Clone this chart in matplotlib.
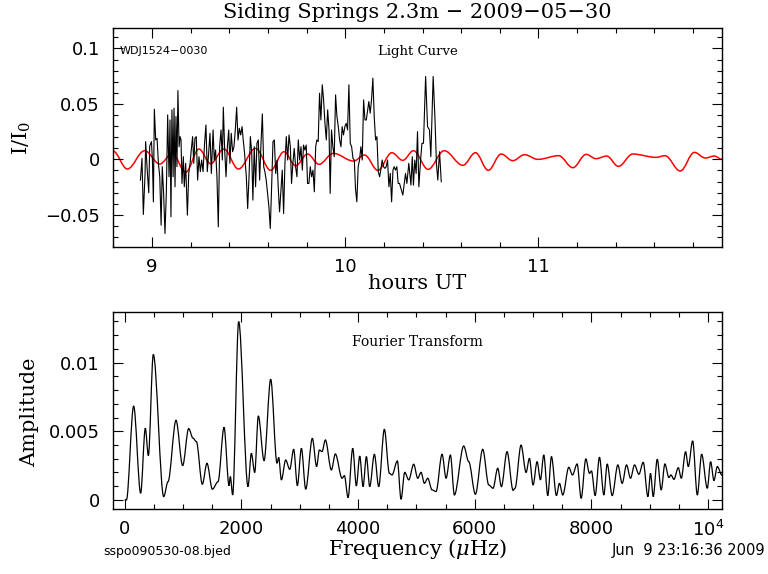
import numpy as np
import matplotlib
matplotlib.use("Agg")
import matplotlib.pyplot as plt
from matplotlib.path import Path
from matplotlib.patches import PathPatch
from matplotlib.ticker import MultipleLocator, FuncFormatter

plt.rcParams['mathtext.fontset'] = 'dejavuserif'

# ---------------- data ----------------
title = "Siding Springs 2.3m \u2212 2009\u221205\u221230"
star_name = "WDJ1524\u22120030"
file_name = "sspo090530-08.bjed"
stamp = "Jun  9 23:16:36 2009"

lc_hours = [8.940, 8.948, 8.955, 8.964, 8.967, 8.974, 8.983, 8.988, 8.997, 9.002,
            9.007, 9.012, 9.019, 9.026, 9.033, 9.040, 9.047, 9.053, 9.060, 9.067,
            9.074, 9.081, 9.088, 9.093, 9.098, 9.103, 9.109, 9.114, 9.119, 9.124,
            9.129, 9.134, 9.140, 9.145, 9.150, 9.155, 9.162, 9.167, 9.174, 9.183,
            9.190, 9.197, 9.203, 9.210, 9.216, 9.222, 9.229, 9.236, 9.243, 9.250,
            9.257, 9.264, 9.272, 9.279, 9.286, 9.293, 9.300, 9.307, 9.316, 9.322,
            9.329, 9.336, 9.343, 9.350, 9.357, 9.364, 9.369, 9.376, 9.383, 9.390,
            9.397, 9.403, 9.410, 9.417, 9.424, 9.431, 9.438, 9.445, 9.452, 9.459,
            9.466, 9.472, 9.479, 9.488, 9.495, 9.502, 9.509, 9.516, 9.522, 9.529,
            9.536, 9.543, 9.550, 9.557, 9.564, 9.571, 9.578, 9.584, 9.591, 9.598,
            9.605, 9.612, 9.619, 9.626, 9.633, 9.640, 9.647, 9.653, 9.660, 9.667,
            9.674, 9.681, 9.688, 9.695, 9.702, 9.709, 9.716, 9.722, 9.729, 9.736,
            9.743, 9.750, 9.757, 9.764, 9.771, 9.778, 9.784, 9.791, 9.798, 9.805,
            9.812, 9.819, 9.826, 9.833, 9.840, 9.847, 9.853, 9.860, 9.867, 9.874,
            9.881, 9.888, 9.895, 9.902, 9.909, 9.916, 9.922, 9.929, 9.936, 9.943,
            9.950, 9.957, 9.964, 9.971, 9.978, 9.984, 9.991, 9.998, 10.005, 10.012,
            10.019, 10.026, 10.033, 10.040, 10.047, 10.053, 10.060, 10.067, 10.074, 10.081,
            10.088, 10.095, 10.102, 10.109, 10.116, 10.122, 10.129, 10.136, 10.143, 10.150,
            10.157, 10.164, 10.171, 10.178, 10.184, 10.191, 10.198, 10.205, 10.212, 10.219,
            10.226, 10.233, 10.240, 10.247, 10.253, 10.260, 10.267, 10.274, 10.281, 10.298,
            10.312, 10.319, 10.329, 10.340, 10.347, 10.353, 10.360, 10.367, 10.374, 10.381,
            10.390, 10.397, 10.405, 10.416, 10.426, 10.436, 10.443, 10.450, 10.455, 10.464,
            10.472, 10.479, 10.488, 10.497]

lc_flux = [-0.0187, 0.0009, -0.0497, -0.0127, 0.0160, -0.0066, -0.0301, 0.0120, 0.0160, -0.0006,
           -0.0383, 0.0452, 0.0175, 0.0190, -0.0036, -0.0157, -0.0593, -0.0066, -0.0307, -0.0669,
           -0.0307, 0.0401, -0.0157, 0.0355, -0.0518, 0.0446, -0.0157, 0.0461, -0.0247, 0.0386,
           -0.0066, 0.0620, 0.0114, 0.0205, 0.0175, -0.0217, 0.0024, -0.0247, -0.0036, -0.0503,
           -0.0127, -0.0036, 0.0084, 0.0205, -0.0036, 0.0190, 0.0205, -0.0187, 0.0024, -0.0111,
           -0.0006, -0.0111, 0.0145, 0.0310, -0.0111, 0.0054, 0.0235, -0.0127, 0.0265, -0.0006,
           0.0084, -0.0157, -0.0608, 0.0114, 0.0265, -0.0006, 0.0470, 0.0084, -0.0157, 0.0114,
           0.0265, -0.0036, 0.0235, 0.0069, 0.0114, 0.0265, 0.0470, 0.0175, 0.0280, 0.0220,
           0.0295, 0.0175, 0.0054, -0.0157, -0.0443, -0.0157, 0.0205, 0.0054, -0.0367, 0.0114,
           -0.0247, 0.0145, 0.0175, -0.0187, 0.0145, 0.0410, -0.0066, -0.0111, -0.0187, -0.0307,
           -0.0428, -0.0623, -0.0247, 0.0160, 0.0175, -0.0127, -0.0006, -0.0247, -0.0473, -0.0277,
           -0.0097, -0.0488, -0.0036, 0.0205, -0.0006, 0.0220, 0.0114, -0.0217, -0.0036, 0.0099,
           -0.0066, -0.0157, 0.0175, -0.0006, 0.0114, -0.0097, 0.0129, 0.0084, 0.0129, -0.0217,
           -0.0217, -0.0066, -0.0157, -0.0097, -0.0292, 0.0114, 0.0175, 0.0160, 0.0596, 0.0355,
           0.0672, 0.0536, 0.0325, 0.0175, 0.0446, 0.0265, -0.0307, 0.0265, 0.0114, 0.0024,
           0.0581, 0.0386, 0.0295, 0.0175, 0.0114, 0.0295, 0.0220, 0.0295, 0.0325, 0.0265,
           0.0672, 0.0145, 0.0114, 0.0009, -0.0006, -0.0262, -0.0383, -0.0066, -0.0006, 0.0114,
           -0.0006, 0.0536, 0.0355, 0.0355, 0.0446, 0.0521, 0.0416, 0.0536, 0.0732, 0.0386,
           0.0175, 0.0205, -0.0111, -0.0157, -0.0097, -0.0006, -0.0066, -0.0081, -0.0066, -0.0006,
           -0.0247, -0.0127, -0.0383, -0.0097, -0.0066, -0.0097, -0.0066, -0.0217, -0.0217, -0.0322,
           -0.0127, -0.0217, -0.0036, -0.0232, 0.0024, -0.0232, -0.0006, -0.0127, 0.0250, -0.0247,
           -0.0006, 0.0145, 0.0145, 0.0747, 0.0295, 0.0265, 0.0024, 0.0446, 0.0747, 0.0386,
           -0.0036, -0.0187, 0.0069, -0.0202]

# model curve: turning points (hours, I/I0)
model_hours = [8.798, 8.872, 8.962, 9.040, 9.105, 9.174, 9.243, 9.303, 9.372, 9.447,
               9.536, 9.614, 9.683, 9.743, 9.805, 9.864, 9.938, 10.043, 10.100, 10.169,
               10.241, 10.298, 10.353, 10.429, 10.512, 10.609, 10.674, 10.740, 10.807, 10.867,
               10.928, 10.997, 11.105, 11.178, 11.247, 11.298, 11.353, 11.414, 11.488, 11.609,
               11.655, 11.734, 11.807, 11.864, 11.910, 11.950]
model_flux = [0.0075, -0.0087, 0.0078, -0.0042, 0.0054, -0.0117, 0.0093, -0.0039, 0.0093, -0.0087,
              0.0099, -0.0099, 0.0069, -0.0057, 0.0048, -0.0045, 0.0054, -0.0015, 0.0039, -0.0099,
              0.0060, -0.0009, 0.0078, -0.0090, 0.0078, -0.0054, 0.0060, -0.0099, 0.0048, -0.0012,
              0.0042, 0.0000, 0.0033, -0.0075, 0.0045, 0.0006, 0.0030, -0.0063, 0.0048, 0.0018,
              0.0033, -0.0105, 0.0063, 0.0012, 0.0030, 0.0000]

# Fourier transform: turning points (frequency in microHz, amplitude)
ft_freq = [0, 30, 154, 274, 354, 406, 491, 669, 743, 880,
           994, 1097, 1171, 1229, 1331, 1411, 1503, 1600, 1703, 1789,
           1811, 1851, 1954, 2114, 2171, 2229, 2291, 2389, 2503, 2611,
           2640, 2686, 2760, 2829, 2897, 2960, 3029, 3103, 3217, 3290,
           3337, 3383, 3440, 3543, 3611, 3726, 3766, 3829, 3909, 3971,
           4029, 4086, 4143, 4200, 4280, 4354, 4451, 4537, 4583, 4674,
           4737, 4800, 4869, 4954, 5023, 5080, 5137, 5194, 5269, 5337,
           5440, 5509, 5583, 5651, 5811, 5897, 6011, 6137, 6240, 6314,
           6394, 6457, 6554, 6657, 6690, 6794, 6880, 6937, 7000, 7069,
           7126, 7183, 7252, 7315, 7400, 7452, 7509, 7612, 7675, 7755,
           7824, 7904, 7967, 8001, 8064, 8138, 8213, 8270, 8356, 8453,
           8527, 8602, 8670, 8739, 8813, 8888, 8968, 9013, 9059, 9128,
           9196, 9259, 9328, 9363, 9414, 9489, 9540, 9614, 9660, 9735,
           9815, 9889, 9986, 10043, 10100, 10158, 10238]
ft_amp = [0.0, 0.0, 0.00684, 0.00049, 0.00522, 0.00323, 0.01060, 0.00024, 0.00133, 0.00580,
          0.00250, 0.00520, 0.00450, 0.00425, 0.00114, 0.00267, 0.00078, 0.00133, 0.00529, 0.00104,
          0.00170, 0.00036, 0.01299, 0.00097, 0.00340, 0.00200, 0.00612, 0.00286, 0.00879, 0.00267,
          0.00310, 0.00146, 0.00291, 0.00223, 0.00369, 0.00104, 0.00376, 0.00078, 0.00449, 0.00243,
          0.00364, 0.00352, 0.00437, 0.00218, 0.00335, 0.00158, 0.00177, 0.00017, 0.00376, 0.00102,
          0.00320, 0.00097, 0.00316, 0.00097, 0.00333, 0.00097, 0.00515, 0.00194, 0.00182, 0.00284,
          0.00005, 0.00201, 0.00146, 0.00260, 0.00158, 0.00201, 0.00121, 0.00158, 0.00073, 0.00061,
          0.00333, 0.00158, 0.00328, 0.00036, 0.00393, 0.00279, 0.00041, 0.00369, 0.00109, 0.00085,
          0.00231, 0.00097, 0.00352, 0.00070, 0.00085, 0.00400, 0.00200, 0.00303, 0.00109, 0.00279,
          0.00146, 0.00328, 0.00032, 0.00316, 0.00032, 0.00121, 0.00036, 0.00238, 0.00182, 0.00262,
          0.00012, 0.00299, 0.00194, 0.00211, 0.00032, 0.00311, 0.00036, 0.00262, 0.00032, 0.00255,
          0.00121, 0.00255, 0.00158, 0.00255, 0.00187, 0.00274, 0.00024, 0.00194, 0.00024, 0.00296,
          0.00073, 0.00262, 0.00163, 0.00182, 0.00150, 0.00235, 0.00158, 0.00352, 0.00243, 0.00430,
          0.00036, 0.00333, 0.00085, 0.00279, 0.00141, 0.00243, 0.00180]

# ---------------- helpers ----------------
W, H = 768, 574
SERIF = ['DejaVu Serif']
SANS = ['DejaVu Sans']


def smooth_path(xs, ys, k=0.36):
    verts = [(xs[0], ys[0])]
    codes = [Path.MOVETO]
    for i in range(len(xs) - 1):
        dx = xs[i + 1] - xs[i]
        verts += [(xs[i] + k * dx, ys[i]), (xs[i + 1] - k * dx, ys[i + 1]), (xs[i + 1], ys[i + 1])]
        codes += [Path.CURVE4] * 3
    return Path(verts, codes)


def fmt_num(v, pos=None):
    if abs(v) < 1e-12:
        return "0"
    s = f"{v:.6g}"
    return s.replace("-", "\u2212")


def fmt_freq(v, pos=None):
    if abs(v - 10000) < 1e-6:
        return r"$\mathregular{10^4}$"
    return f"{int(round(v))}"


def style_axes(ax):
    ax.tick_params(which='both', direction='in', top=True, right=True,
                   width=0.8, labelsize=13, colors='black')
    ax.tick_params(which='major', length=7.2)
    ax.tick_params(which='minor', length=3.6)
    ax.tick_params(axis='y', pad=9.5)
    ax.tick_params(axis='x', pad=8)
    for lab in ax.get_xticklabels() + ax.get_yticklabels():
        lab.set_family(SANS)
    for sp in ax.spines.values():
        sp.set_linewidth(1.0)


fig = plt.figure(figsize=(W / 100, H / 100), dpi=100)

# ---------------- light curve panel ----------------
ax1 = fig.add_axes([113 / W, 1 - 247 / H, 609 / W, 219 / H])
ax1.plot(lc_hours, lc_flux, color='black', lw=0.8)
ax1.add_patch(PathPatch(smooth_path(model_hours, model_flux), fill=False,
                        edgecolor='#ff0000', lw=1.1))
ax1.set_xlim(8.798, 11.95)
ax1.set_ylim(-0.079, 0.1184)
ax1.xaxis.set_major_locator(MultipleLocator(1))
ax1.xaxis.set_minor_locator(MultipleLocator(0.2))
ax1.yaxis.set_major_locator(MultipleLocator(0.05))
ax1.yaxis.set_minor_locator(MultipleLocator(0.01))
ax1.xaxis.set_major_formatter(FuncFormatter(fmt_num))
ax1.yaxis.set_major_formatter(FuncFormatter(fmt_num))
style_axes(ax1)

# ---------------- Fourier transform panel ----------------
ax2 = fig.add_axes([113 / W, 1 - 509 / H, 609 / W, 197 / H])
ax2.add_patch(PathPatch(smooth_path(ft_freq, ft_amp, k=0.33), fill=False,
                        edgecolor='black', lw=0.9))
ax2.set_xlim(-200, 10238)
ax2.set_ylim(-0.00066, 0.01369)
ax2.xaxis.set_major_locator(MultipleLocator(2000))
ax2.xaxis.set_minor_locator(MultipleLocator(500))
ax2.yaxis.set_major_locator(MultipleLocator(0.005))
ax2.yaxis.set_minor_locator(MultipleLocator(0.001))
ax2.xaxis.set_major_formatter(FuncFormatter(fmt_freq))
ax2.yaxis.set_major_formatter(FuncFormatter(fmt_num))
style_axes(ax2)

# ---------------- texts ----------------
fig.text(417.5 / W, 1 - 12 / H, title, ha='center', va='center', fontsize=15, family=SERIF)
fig.text(22 / W, 1 - 138 / H, r"$\mathregular{I/I_0}$", rotation=90, ha='center', va='center',
         fontsize=15, family=SERIF)
fig.text(417.5 / W, 1 - 283 / H, "hours UT", ha='center', va='center', fontsize=15, family=SERIF)
fig.text(30 / W, 1 - 412 / H, "Amplitude", rotation=90, ha='center', va='center',
         fontsize=15, family=SERIF)
fig.text(417.5 / W, 1 - 549 / H, r"Frequency ($\mu$Hz)", ha='center', va='center',
         fontsize=15, family=SERIF)
fig.text(120 / W, 1 - 51 / H, star_name, ha='left', va='center', fontsize=8, family=SANS)
fig.text(417.5 / W, 1 - 51 / H, "Light Curve", ha='center', va='center', fontsize=9.5, family=SERIF)
fig.text(417.5 / W, 1 - 342 / H, "Fourier Transform", ha='center', va='center', fontsize=10, family=SERIF)
fig.text(103 / W, 1 - 551 / H, file_name, ha='left', va='center', fontsize=9, family=SANS)
fig.text(765 / W, 1 - 551 / H, stamp, ha='right', va='center', fontsize=10.5, family=SANS)

fig.savefig("out.png", dpi=100, facecolor='white')
